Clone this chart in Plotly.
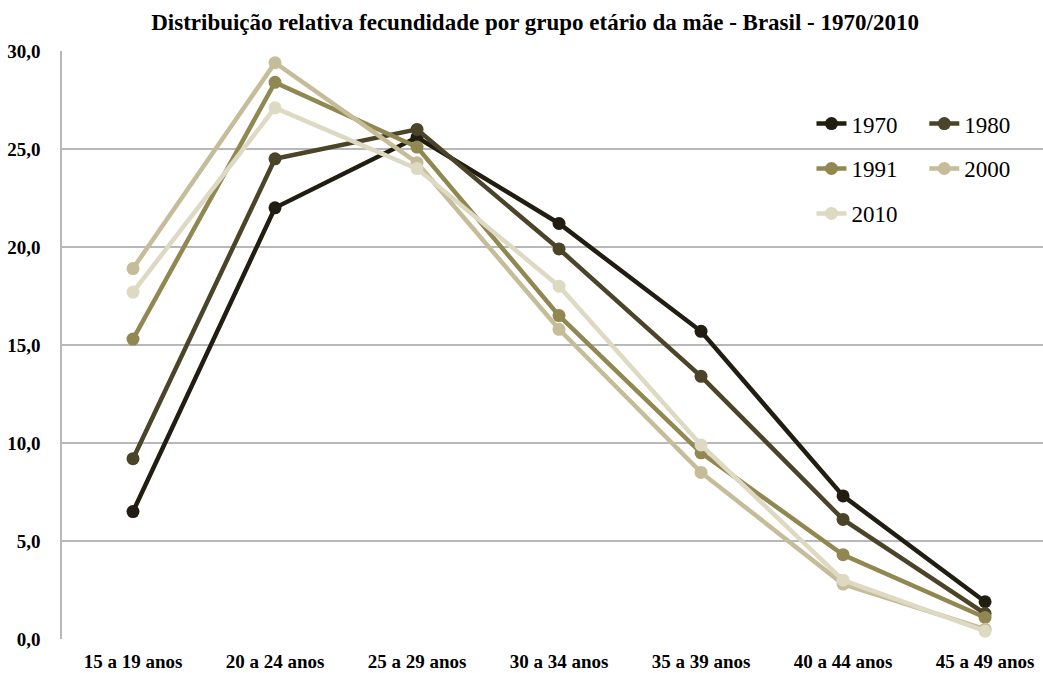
import plotly.graph_objects as go

# Age groups of the mother
age_groups = ["15 a 19 anos", "20 a 24 anos", "25 a 29 anos", "30 a 34 anos",
              "35 a 39 anos", "40 a 44 anos", "45 a 49 anos"]

# Relative fertility distribution (%) by census year
y1970 = [6.5, 22.0, 25.6, 21.2, 15.7, 7.3, 1.9]
y1980 = [9.2, 24.5, 26.0, 19.9, 13.4, 6.1, 1.3]
y1991 = [15.3, 28.4, 25.1, 16.5, 9.5, 4.3, 1.1]
y2000 = [18.9, 29.4, 24.3, 15.8, 8.5, 2.8, 0.5]
y2010 = [17.7, 27.1, 24.0, 18.0, 9.9, 3.0, 0.4]

series = [
    ("1970", y1970, "#211e11", "legend"),
    ("1980", y1980, "#4b4429", "legend2"),
    ("1991", y1991, "#918751", "legend"),
    ("2000", y2000, "#c5bd99", "legend2"),
    ("2010", y2010, "#ddd9c3", "legend"),
]

fig = go.Figure()
for name, vals, color, leg in series:
    fig.add_trace(go.Scatter(
        x=list(range(len(age_groups))), y=vals, name=name,
        mode="lines+markers",
        line=dict(color=color, width=4.5),
        marker=dict(color=color, size=13),
        legend=leg, legendgroup=name,
    ))

legend_style = dict(
    font=dict(family="Liberation Serif", size=23, color="#000000"),
    bgcolor="rgba(0,0,0,0)", tracegroupgap=12,
    xanchor="left", yanchor="top", itemwidth=30,
)

fig.update_layout(
    width=1043, height=673,
    margin=dict(l=62, r=0, t=51, b=34),
    paper_bgcolor="white", plot_bgcolor="white",
    separators=",.",
    title=dict(
        text="Distribuição relativa fecundidade por grupo etário da mãe - Brasil - 1970/2010",
        font=dict(family="Liberation Serif", size=23, color="#000000", weight="bold"),
        x=0.513, xanchor="center", y=0.967, yanchor="middle",
    ),
    legend=dict(x=0.764, y=0.913, **legend_style),
    legend2=dict(x=0.879, y=0.913, **legend_style),
    xaxis=dict(
        range=[-0.5, 6.408],
        tickmode="array", tickvals=list(range(len(age_groups))), ticktext=age_groups,
        tickfont=dict(family="Liberation Serif", size=19, color="#000000", weight="bold"),
        showgrid=False, zeroline=False,
        showline=False, ticks="", ticklabelstandoff=9,
    ),
    yaxis=dict(
        range=[0, 30], dtick=5, tickformat=".1f",
        tickfont=dict(family="Liberation Serif", size=19, color="#000000", weight="bold"),
        showgrid=True, gridcolor="#b8b8b8", gridwidth=1.5,
        zeroline=False, showline=True, linecolor="#b8b8b8", linewidth=1.5,
        ticks="", ticklabelstandoff=16,
    ),
)

fig.write_html("out.html")
